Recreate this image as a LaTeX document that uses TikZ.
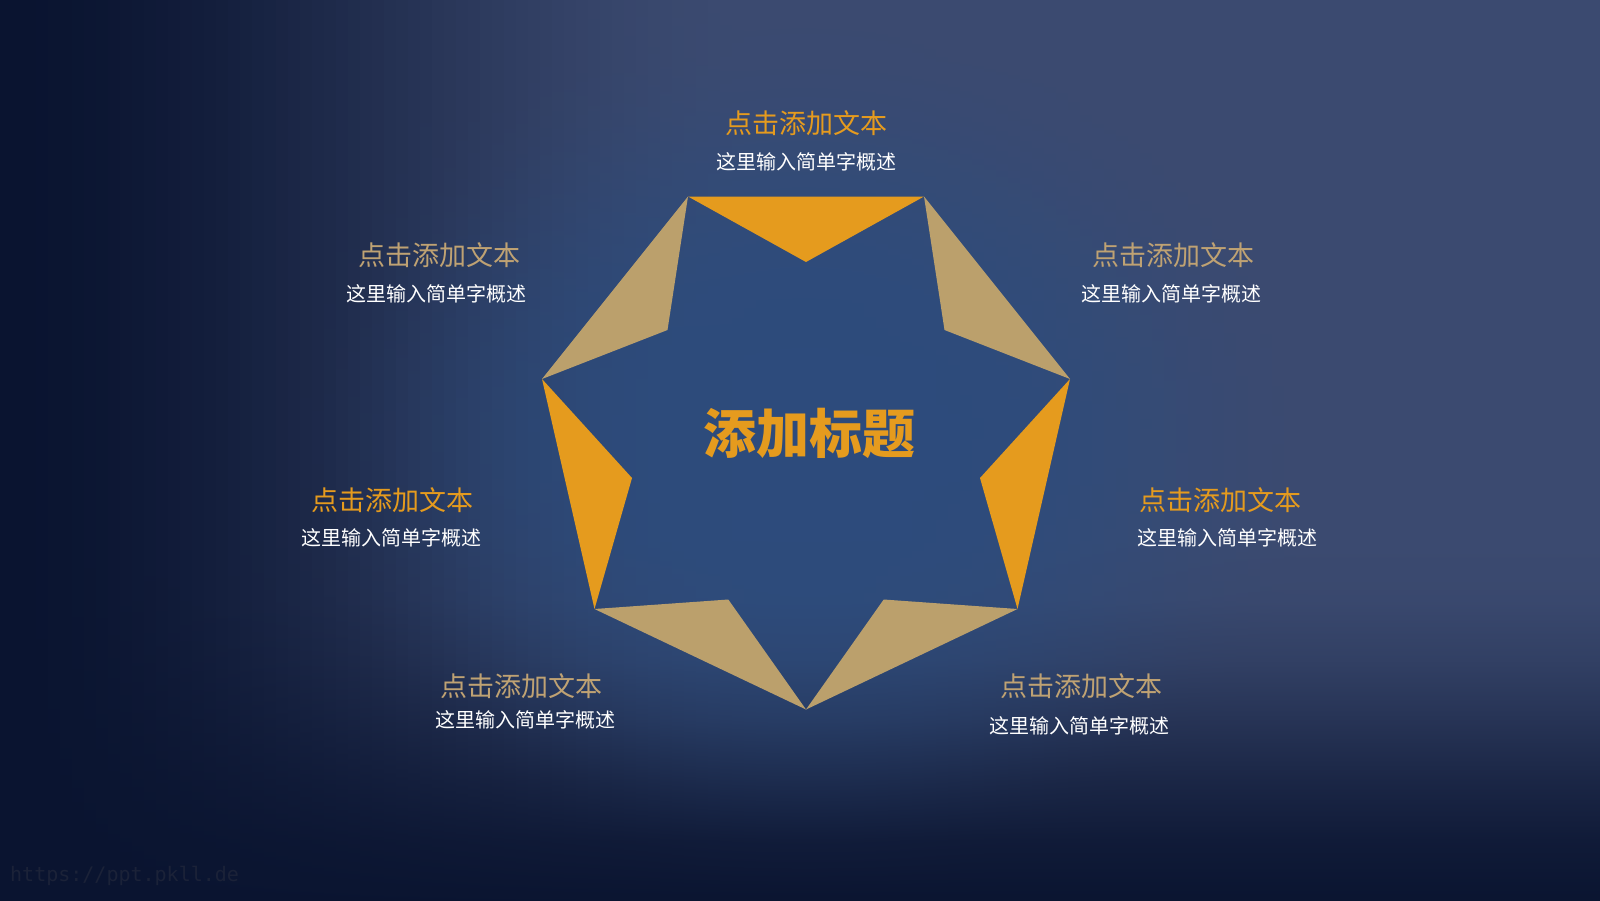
\documentclass[tikz,border=0pt]{standalone}
\usepackage{fontspec}
\newfontfamily\cjk{Noto Sans CJK SC}
\newfontfamily\wmfont{DejaVu Sans Mono}
\definecolor{orng}{HTML}{E59B1E}
\definecolor{tanc}{HTML}{BBA06C}
\definecolor{tantext}{HTML}{BFA273}
\definecolor{bgdark}{HTML}{0A1430}
\definecolor{wmc}{HTML}{1B2238}
% background colour at pixel (x,y): dark to the left and bottom, light to the top and right, blue glow round the star
\newcommand\mybgcolor[3]{%
  \pgfmathsetmacro\qqfa{min(max(#1/750,0),1)}%
  \pgfmathsetmacro\qqfb{\qqfa*\qqfa*(3-2*\qqfa)}%
  \pgfmathsetmacro\qqha{min(max((920-#2)/360,0),1)}%
  \pgfmathsetmacro\qqhb{\qqha*\qqha*(3-2*\qqha)}%
  \pgfmathsetmacro\qqbase{\qqfb*\qqhb}%
  \pgfmathsetmacro\qqgx{(#1-806)/100}%
  \pgfmathsetmacro\qqgy{1.2*(#2-440)/100}%
  \pgfmathsetmacro\qqgd{100*sqrt(\qqgx*\qqgx+\qqgy*\qqgy)}%
  \pgfmathsetmacro\qqgt{min(max((520-\qqgd)/370,0),1)}%
  \pgfmathsetmacro\qqglow{0.72*\qqgt*\qqgt*(3-2*\qqgt)}%
  \pgfmathsetmacro\qqR{(40*\qqglow+(1-\qqglow)*(10+49*\qqbase))/255}%
  \pgfmathsetmacro\qqG{(76*\qqglow+(1-\qqglow)*(20+54*\qqbase))/255}%
  \pgfmathsetmacro\qqB{(128*\qqglow+(1-\qqglow)*(48+64*\qqbase))/255}%
  \definecolor{#3}{rgb}{\qqR,\qqG,\qqB}%
}
\tikzset{
  ttl/.style={font=\cjk\fontsize{27}{30}\selectfont, inner sep=0pt},
  subt/.style={font=\cjk\fontsize{20}{24}\selectfont, text=white, inner sep=0pt},
  orngtri/.style={fill=orng},
  tantri/.style={fill=tanc}
}
\begin{document}
\begin{tikzpicture}[x=1pt,y=-1pt]
\useasboundingbox (0,0) rectangle (1600,900);
\begin{scope}
  \clip (0,0) rectangle (1600,900);
  \fill[bgdark] (0,0) rectangle (1600,900);
  \foreach \col in {0,...,133} {
    \pgfmathsetmacro\xl{\col*12}
    \pgfmathsetmacro\xc{\col*12+6}
    \pgfmathsetmacro\xr{\col*12+12.6}
    \foreach \sg in {0,...,14} {
      \pgfmathsetmacro\ya{\sg*60}
      \pgfmathsetmacro\yb{\sg*60+60}
      \mybgcolor{\xc}{\ya}{ctop}
      \mybgcolor{\xc}{\yb}{cbot}
      \shade[top color=ctop, bottom color=cbot] (\xl,\ya) rectangle (\xr,\yb+0.6);
    }
  }
\end{scope}
% outer vertices
\coordinate (O1) at (688,196.5);
\coordinate (O2) at (924,196.5);
\coordinate (O3) at (1070,379);
\coordinate (O4) at (1017.5,609);
\coordinate (O5) at (806,709.5);
\coordinate (O6) at (594.5,609);
\coordinate (O7) at (542,379);
% inner vertices
\coordinate (I1) at (806,262);
\coordinate (I2) at (944.5,330);
\coordinate (I3) at (980,478);
\coordinate (I4) at (883.7,599.5);
\coordinate (I5) at (728.3,599.5);
\coordinate (I6) at (632,478);
\coordinate (I7) at (667.5,330);
\fill[orngtri] (O1) -- (O2) -- (I1) -- cycle;
\fill[tantri] (O2) -- (O3) -- (I2) -- cycle;
\fill[orngtri] (O3) -- (O4) -- (I3) -- cycle;
\fill[tantri] (O4) -- (O5) -- (I4) -- cycle;
\fill[tantri] (O5) -- (O6) -- (I5) -- cycle;
\fill[orngtri] (O6) -- (O7) -- (I6) -- cycle;
\fill[tantri] (O7) -- (O1) -- (I7) -- cycle;
% center title
\node[font=\cjk\bfseries\fontsize{53}{60}\selectfont, text=orng, inner sep=0pt] (ctitle) at (809,433) {添加标题};
% labels
\node[ttl, text=orng] (t1) at (806,123.5) {点击添加文本};
\node[subt] (s1) at (806,162) {这里输入简单字概述};
\node[ttl, text=tantext] (t2) at (1173.5,255) {点击添加文本};
\node[subt] (s2) at (1171.5,294) {这里输入简单字概述};
\node[ttl, text=tantext] (t7) at (439,255) {点击添加文本};
\node[subt] (s7) at (436,294) {这里输入简单字概述};
\node[ttl, text=orng] (t6) at (392,500) {点击添加文本};
\node[subt] (s6) at (391,538) {这里输入简单字概述};
\node[ttl, text=orng] (t3) at (1220.5,500) {点击添加文本};
\node[subt] (s3) at (1227.5,538) {这里输入简单字概述};
\node[ttl, text=tantext] (t5) at (521.5,686) {点击添加文本};
\node[subt] (s5) at (525.5,719.5) {这里输入简单字概述};
\node[ttl, text=tantext] (t4) at (1081.5,686) {点击添加文本};
\node[subt] (s4) at (1079.5,725.5) {这里输入简单字概述};
% watermark
\node[font=\wmfont\fontsize{20}{24}\selectfont, text=wmc, anchor=west, inner sep=0pt] (wm) at (10,876) {https://ppt.pkll.de};
\end{tikzpicture}
\end{document}
